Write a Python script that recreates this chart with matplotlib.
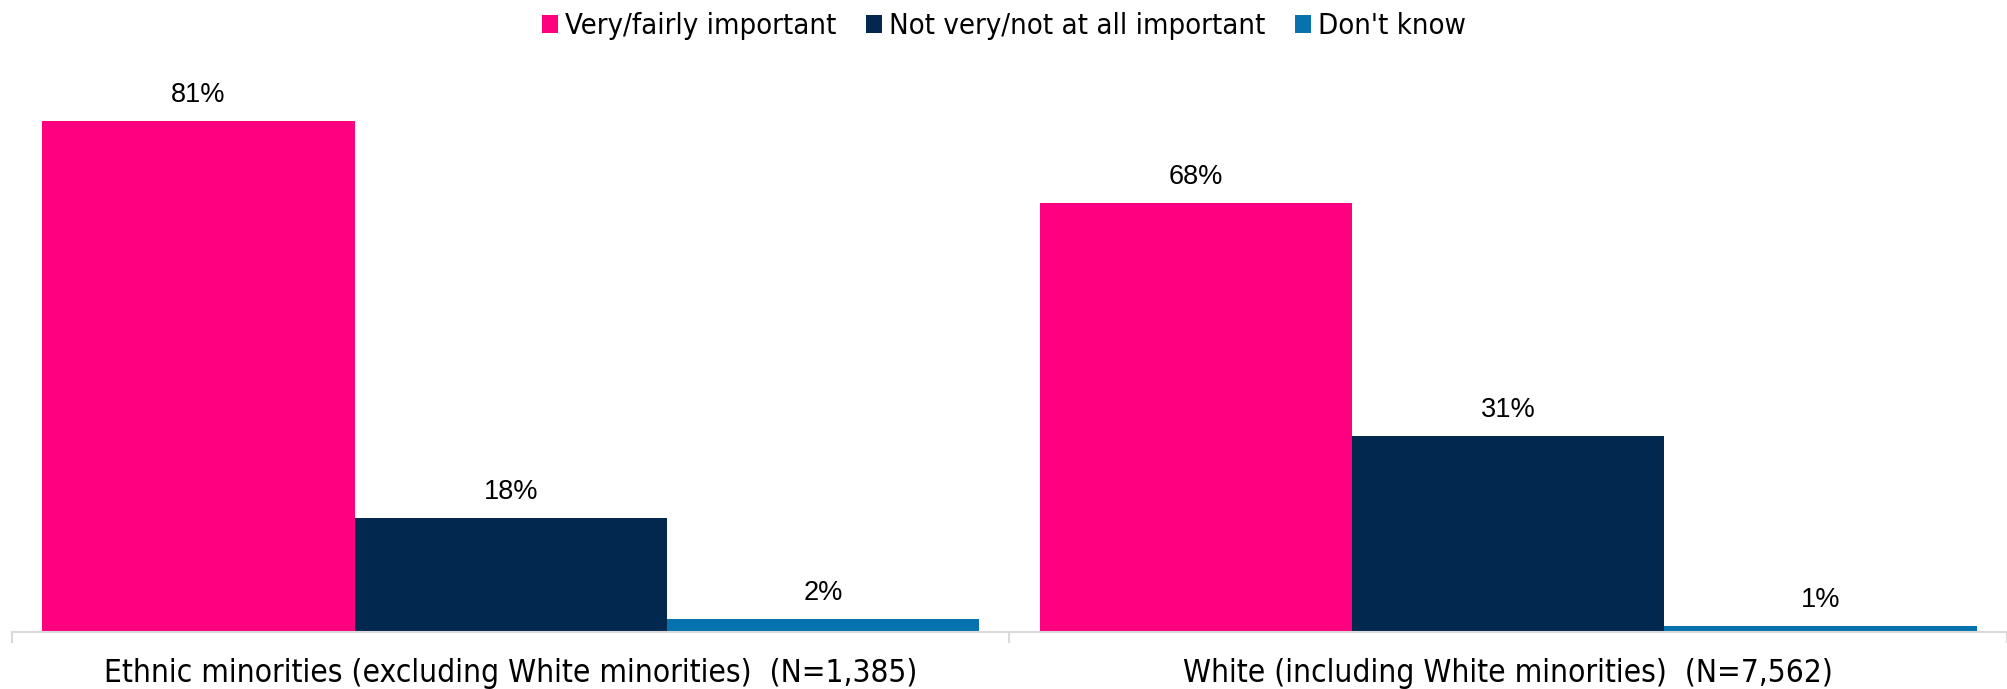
import matplotlib
matplotlib.use("Agg")
import matplotlib.pyplot as plt
import numpy as np

categories = ["Ethnic minorities (excluding White minorities)  (N=1,385)",
              "White (including White minorities)  (N=7,562)"]
series_names = ["Very/fairly important", "Not very/not at all important", "Don't know"]
very_fairly = [81, 68]
not_very = [18, 31]
dont_know = [2, 1]
colors = ["#FF0080", "#02284F", "#0672AE"]

W, H = 2008, 689
fig = plt.figure(figsize=(W / 100, H / 100), dpi=100)
ax = fig.add_axes([12 / W, 1 - 632 / H, (2007 - 12) / W, (632 - 64) / H])

x = np.arange(len(categories))
w = 0.313
cond = dict(family="DejaVu Sans", stretch="condensed")
for i, (vals, c, name) in enumerate(zip([very_fairly, not_very, dont_know], colors, series_names)):
    pos = x + (i - 1) * w
    ax.bar(pos, vals, width=w, color=c, label=name, linewidth=0)
    for p, v in zip(pos, vals):
        ax.annotate(f"{v}%", (p, v), xytext=(0, 13.7), textcoords="offset points",
                    ha="center", va="baseline", fontsize=19.5,
                    family=["Liberation Sans Narrow", "Liberation Sans"])

ax.set_xlim(-0.5, 1.5)
ax.set_ylim(0, 90)
for s in ["top", "right", "left"]:
    ax.spines[s].set_visible(False)
ax.spines["bottom"].set_color("#D9D9D9")
ax.spines["bottom"].set_linewidth(1.5)
ax.set_yticks([])
ax.set_xticks([-0.5, 0.5, 1.5])
ax.set_xticklabels([])
ax.tick_params(axis="x", length=8, width=1.5, color="#D9D9D9")
ax.set_xticks(x, minor=True)
ax.set_xticklabels(categories, minor=True, fontsize=22.7, **cond)
ax.tick_params(axis="x", which="minor", length=0, pad=19)

leg = fig.legend(loc="upper center", bbox_to_anchor=(0.5, 1.02), ncol=3, frameon=False,
                 prop=dict(size=21, **cond), handlelength=0.55, handleheight=0.55,
                 handletextpad=0.25, columnspacing=1.0)

fig.savefig("out.png", dpi=100)
